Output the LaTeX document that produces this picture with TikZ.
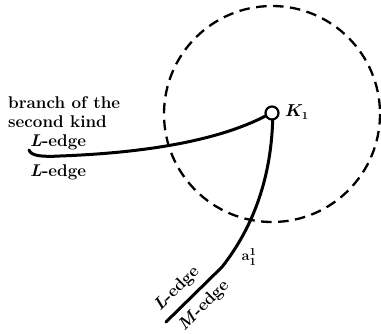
\documentclass[tikz,border=0pt]{standalone}
\usepackage{amsmath}
\begin{document}
\begin{tikzpicture}[x=1pt,y=-1pt,
  edge/.style={line width=3pt,line cap=round},
  lbl/.style={font=\fontsize{17}{19}\selectfont\bfseries,inner sep=0pt},
  dashcircle/.style={line width=2.3pt,dash pattern=on 10.5pt off 6.5pt}]
\useasboundingbox (0,0) rectangle (381,333);
\draw[dashcircle] (272,114) circle (108);
\node[circle,draw,line width=2.2pt,minimum size=13pt,inner sep=0pt] (K) at (272,113) {};
\node[font=\fontsize{16}{18}\selectfont\boldmath,inner sep=0pt,anchor=west] (Klab) at (285,112) {$K_1$};
\coordinate (L0) at (29,150);
\coordinate (B) at (166,322);
\coordinate (kink) at (222,267);
\draw[edge] (L0) .. controls (31,156) and (42,157) .. (60,156) .. controls (140,153) and (215,142) .. (K.205);
\draw[edge] (K.-85) .. controls (271,175) and (255,225) .. (kink) -- (B);
\node[lbl,anchor=base west] (br1) at (8,108) {branch of the};
\node[lbl,anchor=base west] (br2) at (8,127) {second kind};
\node[lbl,anchor=base west] (le1) at (30,146) {\textit{L}-edge};
\node[lbl,anchor=base west] (le2) at (30,176) {\textit{L}-edge};
\node[lbl,rotate=45] (le3) at (177,289) {\textit{L}-edge};
\node[lbl,rotate=45] (me) at (204,306) {\textit{M}-edge};
\node[font=\fontsize{15}{17}\selectfont\boldmath,inner sep=0pt] (a) at (249,257) {$\mathbf{a}_1^1$};
\end{tikzpicture}
\end{document}
